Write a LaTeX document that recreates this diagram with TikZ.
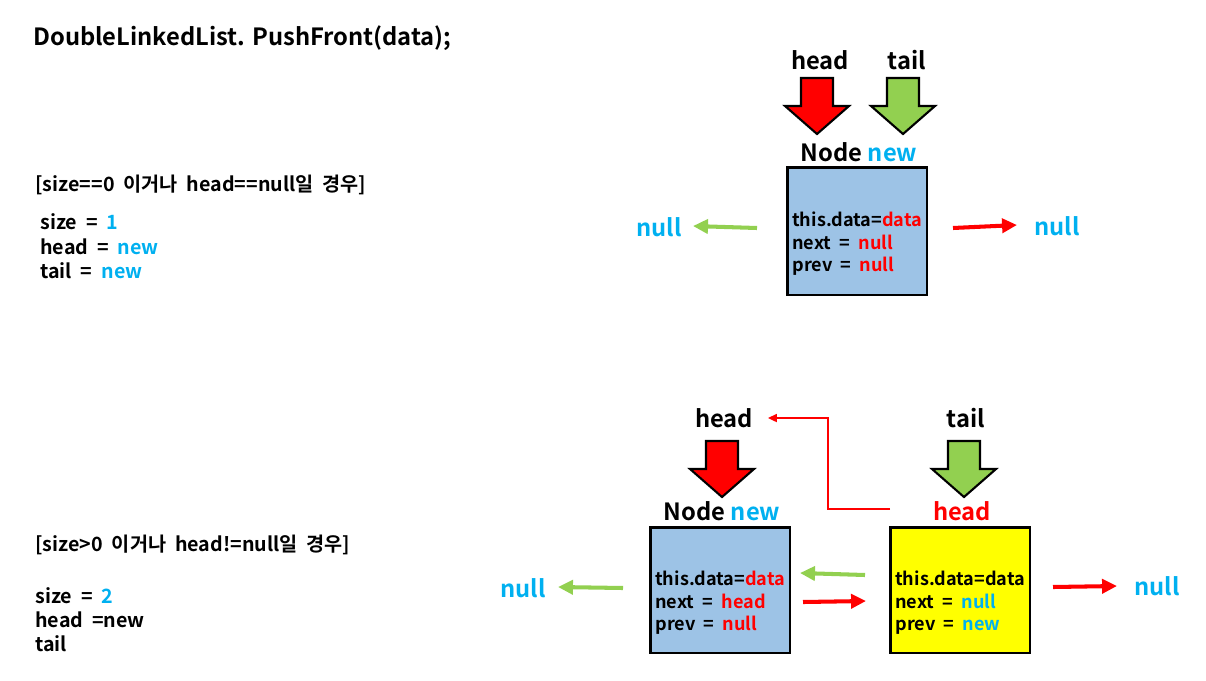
\documentclass[tikz,border=0pt]{standalone}
\usepackage{fontspec}
\setmainfont{Noto Sans CJK KR}[BoldFont={Noto Sans CJK KR Bold}]
\usetikzlibrary{arrows.meta,positioning}
\definecolor{pred}{HTML}{FF0000}
\definecolor{pgreen}{HTML}{92D050}
\definecolor{pcyan}{HTML}{00B0F0}
\definecolor{pblue}{HTML}{9DC3E6}
\definecolor{pyellow}{HTML}{FFFF00}

\tikzset{
  txt/.style={font=\bfseries\fontsize{11.2}{13}\selectfont, anchor=west, inner sep=0pt},
  boxtxt/.style={font=\bfseries\fontsize{10.3}{12.8}\selectfont, anchor=west, align=left, inner sep=0pt},
  big/.style={font=\bfseries\fontsize{13.5}{16}\selectfont, inner sep=0pt},
  cellbox/.style={draw=black, line width=1.7pt, minimum width=2.8cm, minimum height=2.52cm, inner sep=0pt},
  link/.style={line width=2.3pt, -{Triangle[length=8.5pt,width=8pt]}},
  back/.style={line width=1.1pt, pred, -{Triangle[length=5pt,width=4.5pt]}},
  pics/pointer/.style={code={
    \filldraw[draw=black, line width=1.2pt, line join=miter, fill=#1]
      (-16,-56) -- (16,-56) -- (16,-28) -- (32,-28) -- (0,0)
      -- (-32,-28) -- (-16,-28) -- cycle;}},
}

\begin{document}
\begin{tikzpicture}[x=0.02cm, y=-0.02cm]
\useasboundingbox (0,0) rectangle (1206,680);

\node[big, anchor=west] (title) at (33,38) {DoubleLinkedList. PushFront(data);};

% case 1
\node[txt] (cond1) at (35,185) {[size==0~ 이거나~ head==null일~ 경우]};
\node[txt] (size1) at (40,222) {size~~=~~\textcolor{pcyan}{1}};
\node[txt] (head1) at (40,247) {head~~=~~\textcolor{pcyan}{new}};
\node[txt] (tail1) at (40,271) {tail~~=~~\textcolor{pcyan}{new}};

\pic at (817,134) {pointer=pred};
\pic at (903,134) {pointer=pgreen};
\node[big] (headA) at (820,60) {head};
\node[big] (tailA) at (907,60) {tail};
\node[big] (nodeA) at (859,152) {Node \textcolor{pcyan}{new}};

\node[cellbox, fill=pblue, minimum height=2.56cm] (newA) at (857,231) {};
\node[boxtxt] (newAtxt) at (792,244) {this.data=\textcolor{pred}{data}\\
  next~~=~~\textcolor{pred}{null}\\ prev~~=~~\textcolor{pred}{null}};

\node[big, pcyan] (nullAL) at (659,227) {null};
\node[big, pcyan] (nullAR) at (1057,226) {null};
\coordinate (aL) at (757,228);
\coordinate (aLend) at (693,226);
\coordinate (aR) at (953,228);
\coordinate (aRend) at (1017,225);
\draw[link, pgreen] (aL) -- (aLend);
\draw[link, pred] (aR) -- (aRend);

% case 2
\node[txt] (cond2) at (35,545) {[size>0~ 이거나~ head!=null일~ 경우]};
\node[txt] (size2) at (35,596) {size~~=~~\textcolor{pcyan}{2}};
\node[txt] (head2) at (35,620) {head~~=new};
\node[txt] (tail2) at (35,644) {tail};

\pic at (722,497) {pointer=pred};
\pic at (964,497) {pointer=pgreen};
\node[big] (headB) at (724,418) {head};
\node[big] (tailB) at (966,418) {tail};
\node[big] (nodeB) at (722,511) {Node \textcolor{pcyan}{new}};
\node[big, pred] (oldhead) at (962,511) {head};

\node[cellbox, fill=pblue] (newB) at (720,590) {};
\node[cellbox, fill=pyellow] (oldB) at (960,590) {};
\node[boxtxt] (newBtxt) at (655,603) {this.data=\textcolor{pred}{data}\\
  next~~=~~\textcolor{pred}{head}\\ prev~~=~~\textcolor{pred}{null}};
\node[boxtxt] (oldBtxt) at (895,603) {this.data=data\\
  next~~=~~\textcolor{pcyan}{null}\\ prev~~=~~\textcolor{pcyan}{new}};

\node[big, pcyan] (nullBL) at (523,588) {null};
\node[big, pcyan] (nullBR) at (1157,586) {null};

\coordinate (bL) at (623,588);
\coordinate (bLend) at (558,587);
\coordinate (bR) at (1053,587);
\coordinate (bRend) at (1117,586);
\coordinate (pv) at (865,575);
\coordinate (pvend) at (800,573);
\coordinate (nx) at (803,602);
\coordinate (nxend) at (866,601);
\draw[link, pgreen] (bL) -- (bLend);
\draw[link, pred] (bR) -- (bRend);
\draw[link, pgreen] (pv) -- (pvend);
\draw[link, pred] (nx) -- (nxend);

\coordinate (bk) at (890,509);
\coordinate (bkend) at (768,418);
\draw[back] (bk) -- (828,509) |- (bkend);
\end{tikzpicture}
\end{document}
